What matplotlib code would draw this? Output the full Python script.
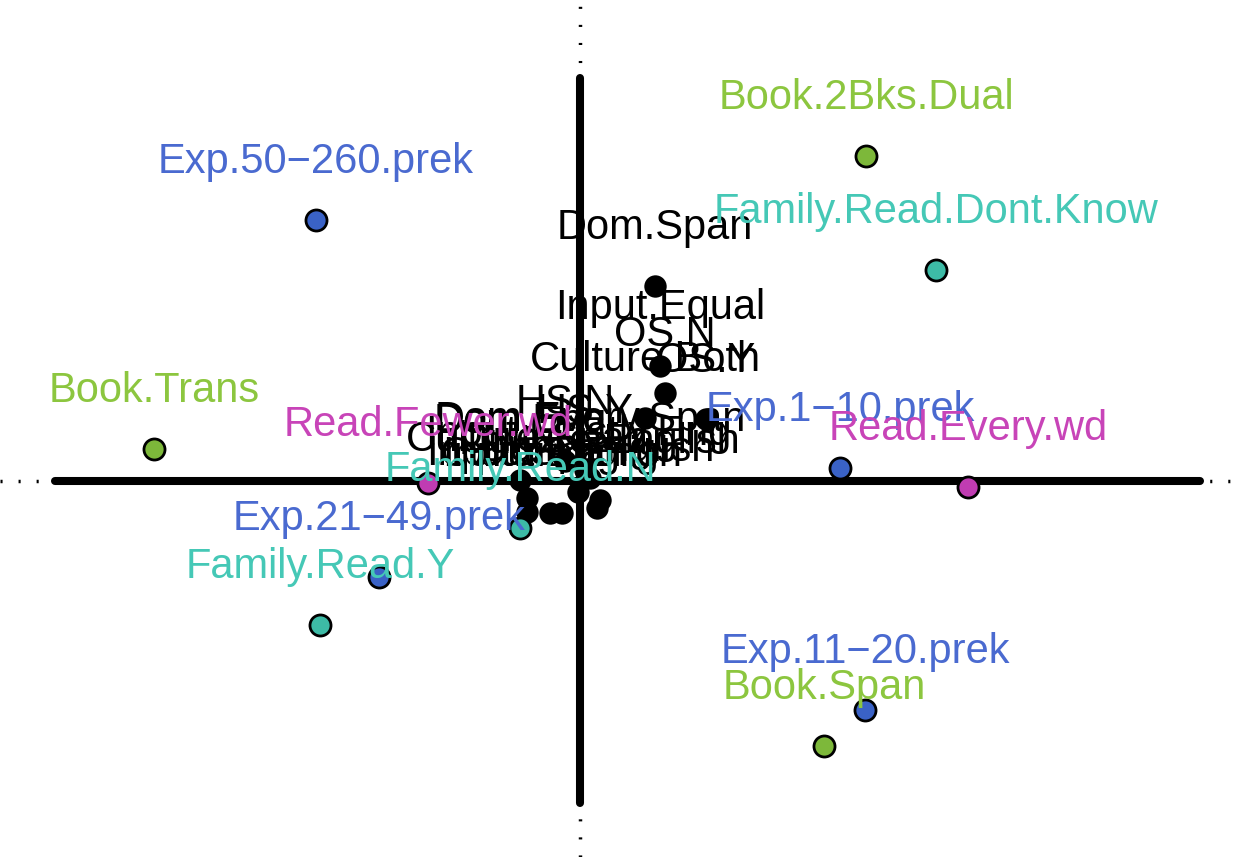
import matplotlib
matplotlib.use("Agg")
import matplotlib.pyplot as plt

# ---- data (factor scores, component 1 / component 2) ----
col_labels = ["Book.2Bks.Dual", "Exp.50\u2212260.prek", "Family.Read.Dont.Know", "Book.Trans",
              "Read.Fewer.wd", "Family.Read.N", "Exp.21\u221249.prek", "Family.Read.Y",
              "Exp.1\u221210.prek", "Read.Every.wd", "Exp.11\u221220.prek", "Book.Span"]
col_x = [2.86, -2.64, 3.56, -4.26, -1.52, -0.60, -2.01, -2.60, 2.60, 3.88, 2.85, 2.44]
col_y = [3.25, 2.61, 2.11, 0.32, -0.02, -0.47, -0.96, -1.44, 0.13, -0.06, -2.29, -2.65]
col_group = ["Book", "Exp", "Family", "Book", "Read", "Family", "Exp", "Family",
             "Exp", "Read", "Exp", "Book"]

blk_labels = ["Dom.Span", "Input.Equal", "OS.N", "Culture.Both", "OS.Y", "HS.N", "HS.Y",
              "Dom.Eng", "Dom.Every.Span", "Culture.Span", "Input.Span", "Culture.Eng",
              "Input.English", "Input.Mostly.Eng", "Dom.English", "Culture.English"]
blk_x = [0.75, 0.80, 0.85, 0.65, 1.26, -0.15, 0.05, -0.60, 0.10, -0.53, -0.53, -0.30,
         -0.18, -0.02, 0.17, 0.20]
blk_y = [1.95, 1.15, 0.88, 0.63, 0.62, 0.20, 0.11, 0.01, 0.03, -0.17, -0.31, -0.32,
         -0.32, -0.11, -0.27, -0.19]

group_point = {"Book": "#7DB83A", "Exp": "#3A62C6", "Family": "#3DBBA6", "Read": "#C03CB2"}
group_text = {"Book": "#8CC63F", "Exp": "#4A6AD0", "Family": "#45C8B6", "Read": "#C844B8"}

# axis extents
xlim = (-5.80, 6.53)
ylim = (-3.76, 4.81)
solid_x = (-5.25, 6.20)
solid_y = (-3.22, 4.03)

fig = plt.figure(figsize=(12.33, 8.57), dpi=100)
ax = fig.add_axes([0, 0, 1, 1])
ax.set_xlim(*xlim)
ax.set_ylim(*ylim)
ax.axis("off")

# dotted full axes
ax.plot(xlim, [0, 0], color="black", lw=2.5, ls=(0, (0.6, 4.6)), solid_capstyle="round", zorder=1)
ax.plot([0, 0], ylim, color="black", lw=2.5, ls=(0, (0.6, 4.6)), solid_capstyle="round", zorder=1)
# solid axes
ax.plot(solid_x, [0, 0], color="black", lw=5.8, solid_capstyle="round", zorder=2)
ax.plot([0, 0], solid_y, color="black", lw=5.8, solid_capstyle="round", zorder=2)

font = "Liberation Sans"
fs = 30

# black (variables) points and labels
ax.scatter(blk_x, blk_y, s=260, color="black", zorder=3, linewidths=0)
for lab, x, y in zip(blk_labels, blk_x, blk_y):
    ax.annotate(lab, (x, y), xytext=(0, 42), textcoords="offset points",
                ha="center", va="center", fontsize=fs, family=font, color="black", zorder=4)

# coloured points and labels
for lab, x, y, g in zip(col_labels, col_x, col_y, col_group):
    ax.scatter([x], [y], s=230, color=group_point[g], edgecolors="black", linewidths=2.0, zorder=5)
    ax.annotate(lab, (x, y), xytext=(0, 42), textcoords="offset points",
                ha="center", va="center", fontsize=fs, family=font, color=group_text[g], zorder=6)

fig.savefig("out.png", dpi=100)
